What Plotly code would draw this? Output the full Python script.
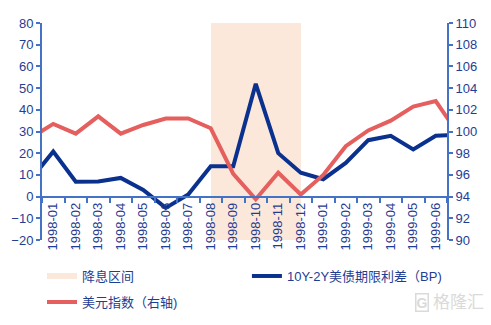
import plotly.graph_objects as go

# Months (first and last are just outside the visible range; the lines run off both edges)
months = ["1997-12", "1998-01", "1998-02", "1998-03", "1998-04", "1998-05", "1998-06",
          "1998-07", "1998-08", "1998-09", "1998-10", "1998-11", "1998-12",
          "1999-01", "1999-02", "1999-03", "1999-04", "1999-05", "1999-06", "1999-07"]

# 10Y-2Y US Treasury term spread (BP), left axis
spread_bp = [7.8, 20.8, 6.9, 7.0, 8.6, 3.1, -5.2, 1.0, 14.0, 14.0, 52.0, 20.0,
             11.0, 8.0, 15.5, 26.0, 28.0, 21.7, 28.0, 28.6]

# US dollar index, right axis
dxy = [99.4, 100.7, 99.8, 101.4, 99.8, 100.6, 101.2, 101.2, 100.3, 96.1, 93.75,
       96.2, 94.2, 96.0, 98.65, 100.1, 101.0, 102.3, 102.8, 99.8]

# Rate-cut window (bars drawn from previous month centre to own centre)
cut_months = ["1998-09", "1998-10", "1998-11", "1998-12"]
cut_base = -20
cut_height = 100

left_ticks = [-20, -10, 0, 10, 20, 30, 40, 50, 60, 70, 80]
right_ticks = [90, 92, 94, 96, 98, 100, 102, 104, 106, 108, 110]

NAVY = "#0B318F"
RED = "#E45F5D"
SHADE = "#FCE8DA"
AXIS = "#4472C4"
TXT = "#1F3D93"
WM = "#DADADA"
FONT = "Liberation Sans, Arial, Noto Sans CJK SC, sans-serif"

fig = go.Figure()

fig.add_trace(go.Bar(
    x=cut_months, y=[cut_height] * len(cut_months), base=cut_base,
    width=1, offset=-1, marker=dict(color=SHADE, line=dict(width=0)),
    showlegend=False, hoverinfo="skip", yaxis="y"))

# legend swatch for the shaded window
fig.add_trace(go.Scatter(
    x=[None], y=[None], mode="lines", name="降息区间",
    line=dict(color=SHADE, width=6), yaxis="y", legend="legend"))

fig.add_trace(go.Scatter(
    x=months, y=spread_bp, mode="lines", name="10Y-2Y美债期限利差（BP)",
    line=dict(color=NAVY, width=4), yaxis="y", legend="legend2"))

fig.add_trace(go.Scatter(
    x=months, y=dxy, mode="lines", name="美元指数（右轴)",
    line=dict(color=RED, width=4), yaxis="y2", legend="legend3"))

legend_common = dict(
    orientation="h", xanchor="left", yanchor="middle", tracegroupgap=0,
    font=dict(size=13, color=TXT), bgcolor="rgba(0,0,0,0)")

fig.update_layout(
    width=491, height=325,
    margin=dict(l=42, r=44, t=23, b=85, autoexpand=False),
    paper_bgcolor="white", plot_bgcolor="white",
    font=dict(family=FONT, color=TXT, size=13),
    bargap=0,
    xaxis=dict(
        type="category", categoryorder="array", categoryarray=months,
        range=[0.5, 18.5], anchor="free", position=0.2, automargin=False,
        showline=True, linecolor=AXIS, linewidth=2,
        ticks="outside", ticklen=5, tickcolor=AXIS, tickwidth=1.5,
        tickson="boundaries", tickangle=-90, showgrid=False,
        tickfont=dict(size=13, color=TXT), zeroline=False),
    yaxis=dict(
        range=[-20, 80], tickvals=left_ticks, showgrid=False, zeroline=False,
        automargin=False,
        showline=True, linecolor=AXIS, linewidth=2,
        ticks="outside", ticklen=4, tickcolor=AXIS, tickwidth=1.5,
        tickfont=dict(size=13, color=TXT)),
    yaxis2=dict(
        range=[90, 110], tickvals=right_ticks, overlaying="y", side="right",
        showgrid=False, zeroline=False, automargin=False,
        showline=True, linecolor=AXIS, linewidth=2,
        ticks="outside", ticklen=4, tickcolor=AXIS, tickwidth=1.5,
        tickfont=dict(size=13, color=TXT)),
    legend=dict(x=0, y=-0.166, **legend_common),
    legend2=dict(x=0.506, y=-0.166, **legend_common),
    legend3=dict(x=0, y=-0.286, **legend_common),
    annotations=[
        dict(text="格隆汇", xref="paper", yref="paper", x=1.097, y=-0.29,
             xanchor="right", yanchor="middle", showarrow=False,
             font=dict(size=17, color=WM)),
        dict(text="<b>G</b>", xref="paper", yref="paper", x=0.955, y=-0.29,
             xanchor="right", yanchor="middle", showarrow=False,
             bordercolor=WM, borderwidth=1.5, borderpad=0,
             font=dict(size=14, color=WM)),
    ],
)

fig.write_html("out.html")
